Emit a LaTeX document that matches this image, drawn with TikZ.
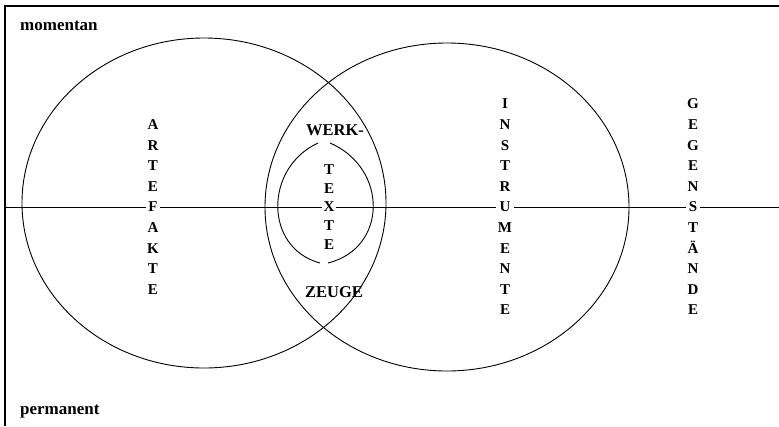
\documentclass[tikz,border=0pt]{standalone}
\usepackage{fontspec}
\setmainfont{Liberation Serif}
\begin{document}
\begin{tikzpicture}[x=1pt,y=-1pt,
  frame/.style={line width=1.3pt},
  ring/.style={line width=0.9pt},
  col/.style={font=\bfseries\fontsize{15}{20.6}\selectfont, align=center, fill=white, inner sep=1.5pt},
  lbl/.style={font=\bfseries\fontsize{16.5}{18}\selectfont, inner sep=1pt},
  side/.style={font=\bfseries\fontsize{17}{19}\selectfont, anchor=base west, inner sep=0pt}]
\useasboundingbox (0,0) rectangle (779,426);
\coordinate (tl) at (5,6);
\coordinate (tr) at (779,6);
\coordinate (bl) at (5,426);
\coordinate (al) at (5,207);
\coordinate (ar) at (779,207);
\coordinate (c1) at (204,203);
\coordinate (c2) at (447,207);
\coordinate (l1) at (318,143);
\coordinate (l2) at (320,263);
\coordinate (r1) at (330,143);
\coordinate (r2) at (328,263);
\draw[frame] (tr) -- (tl) -- (bl);
\draw[ring] (al) -- (ar);
\draw[ring] (c1) ellipse [x radius=182, y radius=165];
\draw[ring] (c2) ellipse [x radius=182, y radius=164];
\draw[ring] (l1) .. controls (264,168) and (264,248) .. (l2);
\draw[ring] (r1) .. controls (388,168) and (388,248) .. (r2);
\node[col] (artefakte) at (153,207) {A\\R\\T\\E\\F\\A\\K\\T\\E};
\node[col] (instr) at (505,207) {I\\N\\S\\T\\R\\U\\M\\E\\N\\T\\E};
\node[col] (gegen) at (693,207) {G\\E\\G\\E\\N\\S\\T\\Ä\\N\\D\\E};
\node[col, font=\bfseries\fontsize{15}{18.8}\selectfont] (texte) at (329,207) {T\\E\\X\\T\\E};
\node[lbl] (werk) at (335,130) {WERK-};
\node[lbl] (zeuge) at (334,292) {ZEUGE};
\node[side] (mom) at (20,30) {momentan};
\node[side] (perm) at (20,414) {permanent};
\end{tikzpicture}
\end{document}
